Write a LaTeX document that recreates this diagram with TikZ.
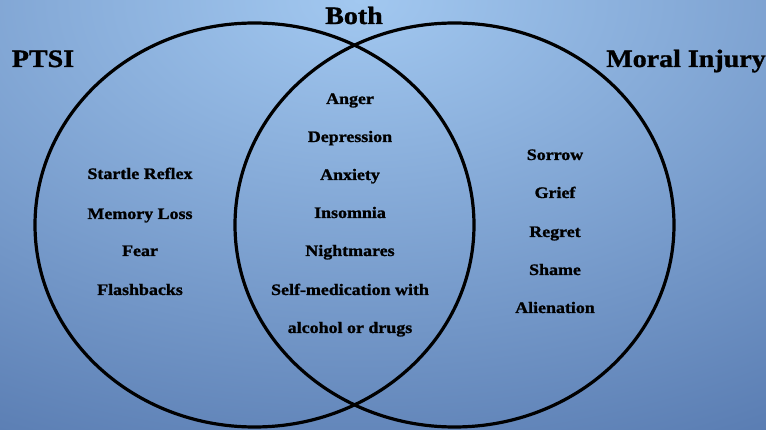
\documentclass[tikz,border=0pt]{standalone}
\usepackage{fontspec}
\newfontfamily\fat{Liberation Serif}[FakeStretch=1.12,FakeBold=1.2]
\definecolor{bgtop}{RGB}{162,200,240}
\definecolor{bgbot}{RGB}{66,100,158}
\begin{document}
\begin{tikzpicture}[x=1pt,y=-1pt,
  item/.style={font=\fat\bfseries\fontsize{16}{18}\selectfont, anchor=base, inner sep=0pt},
  head/.style={font=\fat\bfseries\fontsize{25}{28}\selectfont, anchor=base, inner sep=0pt},
  ring/.style={draw=black, line width=3.2pt}]
\useasboundingbox (0,0) rectangle (766,430);
\begin{scope}
  \clip (0,0) rectangle (766,430);
  \shade[inner color=bgtop, outer color=bgbot] (360,0) ellipse [x radius=1100pt, y radius=660pt];
\end{scope}
% circles
\draw[ring] (254.5,225) ellipse [x radius=219.5pt, y radius=202pt];
\draw[ring] (454.5,225) ellipse [x radius=219.5pt, y radius=202pt];
% headings
\node[head] (ptsi) at (43,67) {PTSI};
\node[head] (both) at (354,24) {Both};
\node[head] (moral) at (686,67) {Moral Injury};
% left list
\node[item] (l1) at (140,179) {Startle Reflex};
\node[item] (l2) at (140,219) {Memory Loss};
\node[item] (l3) at (140,256) {Fear};
\node[item] (l4) at (140,295) {Flashbacks};
% middle list
\node[item] (m1) at (350,104) {Anger};
\node[item] (m2) at (350,142) {Depression};
\node[item] (m3) at (350,180) {Anxiety};
\node[item] (m4) at (350,218) {Insomnia};
\node[item] (m5) at (350,256) {Nightmares};
\node[item] (m6) at (350,295) {Self-medication with};
\node[item] (m7) at (350,333) {alcohol or drugs};
% right list
\node[item] (r1) at (555,160) {Sorrow};
\node[item] (r2) at (555,198) {Grief};
\node[item] (r3) at (555,237) {Regret};
\node[item] (r4) at (555,275) {Shame};
\node[item] (r5) at (555,313) {Alienation};
\end{tikzpicture}
\end{document}
